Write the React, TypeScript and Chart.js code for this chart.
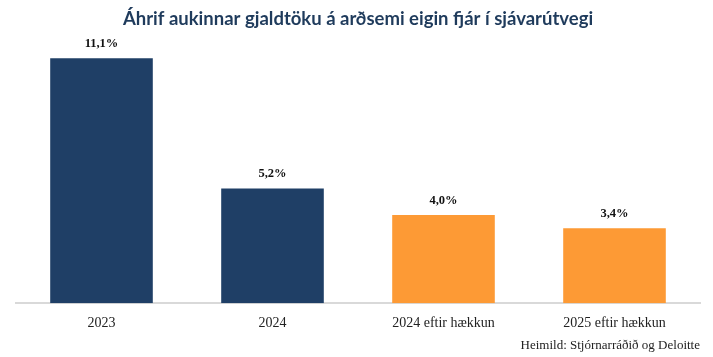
import React, { useEffect, useRef } from "react";
import { Chart, registerables } from "chart.js";

Chart.register(...registerables);

const categories = ["2023", "2024", "2024 eftir hækkun", "2025 eftir hækkun"];
const values = [11.1, 5.2, 4.0, 3.4];
const valueLabels = ["11,1%", "5,2%", "4,0%", "3,4%"];
const barColors = ["#1f3f66", "#1f3f66", "#fd9a35", "#fd9a35"];
const titleText = "Áhrif aukinnar gjaldtöku á arðsemi eigin fjár í sjávarútvegi";
const sourceText = "Heimild: Stjórnarráðið og Deloitte";

const labelPlugin = {
  id: "valueLabels",
  afterDatasetsDraw(chart: any) {
    const ctx = chart.ctx;
    const meta = chart.getDatasetMeta(0);
    ctx.save();
    ctx.font = "bold 12.5px 'Liberation Serif'";
    ctx.fillStyle = "#111";
    ctx.textAlign = "center";
    ctx.textBaseline = "bottom";
    meta.data.forEach((bar: any, i: number) => {
      ctx.fillText(valueLabels[i], bar.x, bar.y - 8);
    });
    ctx.restore();
  },
};

export default function App() {
  const ref = useRef<HTMLCanvasElement | null>(null);
  useEffect(() => {
    document.body.style.margin = "0";
    const chart = new Chart(ref.current!, {
      type: "bar",
      data: {
        labels: categories,
        datasets: [
          {
            data: values,
            backgroundColor: barColors,
            categoryPercentage: 0.6,
            barPercentage: 1,
          },
        ],
      },
      options: {
        animation: false,
        responsive: false,
        layout: { padding: { left: 16, right: 13, top: 0, bottom: 0 } },
        plugins: {
          legend: { display: false },
          tooltip: { enabled: false },
          title: {
            display: true,
            text: titleText,
            color: "#1f3b5c",
            font: { family: "Lato", weight: "bold", size: 18.5 },
            padding: { top: 8, bottom: 18 },
          },
          subtitle: {
            display: true,
            text: sourceText,
            position: "bottom",
            align: "end",
            color: "#222",
            font: { family: "Liberation Serif", size: 13, lineHeight: 1 },
            padding: { top: -5, bottom: 5 },
          },
        },
        scales: {
          x: {
            grid: { display: false, drawTicks: false },
            border: { color: "#d9d9d9", width: 2 },
            ticks: {
              color: "#222",
              font: { family: "Liberation Serif", size: 14 },
              padding: 12,
            },
          },
          y: { display: false, min: 0, max: 11.55 },
        },
      },
      plugins: [labelPlugin],
    });
    return () => chart.destroy();
  }, []);
  return (
    <div style={{ width: 713, height: 357 }}>
      <canvas ref={ref} width={713} height={357} />
    </div>
  );
}
